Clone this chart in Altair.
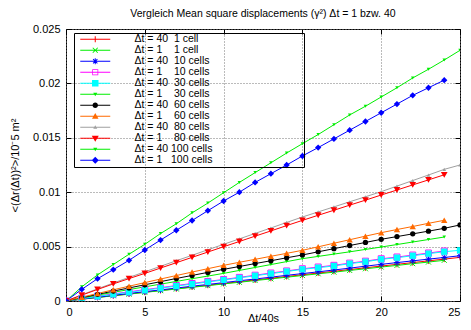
import altair as alt
import pandas as pd

FONT = "Liberation Sans"

# x positions (Δt/40s)
x_dt40 = list(range(26))
x_dt1 = list(range(25))

labels = [
    "Δt = 40  1 cell",
    "Δt = 1    1 cell",
    "Δt = 40  10 cells",
    "Δt = 1    10 cells",
    "Δt = 40  30 cells",
    "Δt = 1    30 cells",
    "Δt = 40  60 cells",
    "Δt = 1    60 cells",
    "Δt = 40  80 cells",
    "Δt = 1    80 cells",
    "Δt = 40 100 cells",
    "Δt = 1   100 cells",
]
names = [s.replace(" ", "\u00a0") for s in labels]

d40_1 = [0, .00017, .00033, .00049, .00065, .00081, .00097, .00113, .00129, .00145, .00161, .00177, .00193,
         .00209, .00225, .00241, .00257, .00273, .00289, .00305, .00321, .00337, .00353, .00369, .00385, .00401]
d1_1 = [0, .00016, .00032, .00048, .00063, .00079, .00095, .00110, .00126, .00141, .00157, .00172, .00188,
        .00203, .00219, .00234, .00250, .00265, .00281, .00296, .00312, .00327, .00343, .00358, .00374]
d40_10 = [0, .00018, .00035, .00052, .00069, .00086, .00102, .00119, .00136, .00152, .00169, .00186, .00202,
          .00219, .00236, .00252, .00268, .00285, .00302, .00320, .00337, .00353, .00369, .00385, .00400, .00416]
d1_10 = [0, .00023, .00045, .00065, .00085, .00104, .00123, .00142, .00161, .00180, .00198, .00217, .00237,
         .00257, .00276, .00296, .00312, .00328, .00348, .00366, .00388, .00404, .00422, .00441, .00459]
d40_30 = [0, .00022, .00042, .00061, .00080, .00099, .00118, .00137, .00156, .00175, .00193, .00212, .00232,
          .00252, .00271, .00291, .00306, .00322, .00343, .00361, .00383, .00398, .00416, .00435, .00453, .00466]
d1_30 = [0, .00028, .00054, .00080, .00105, .00130, .00155, .00180, .00205, .00229, .00254, .00281, .00308,
         .00335, .00362, .00389, .00410, .00431, .00452, .00474, .00496, .00519, .00542, .00565, .00588]
d40_60 = [0, .00031, .00061, .00091, .00120, .00149, .00178, .00207, .00235, .00263, .00291, .00317, .00344,
          .00370, .00397, .00423, .00452, .00481, .00510, .00538, .00567, .00592, .00617, .00642, .00668, .00699]
d1_60 = [0, .00035, .00069, .00103, .00136, .00169, .00202, .00234, .00266, .00297, .00328, .00356, .00383,
         .00411, .00438, .00466, .00498, .00531, .00563, .00596, .00628, .00657, .00685, .00714, .00742]
d40_80 = [0, .00057, .00112, .00165, .00217, .00268, .00319, .00370, .00420, .00471, .00521, .00571, .00621,
          .00671, .00722, .00772, .00819, .00865, .00912, .00958, .01005, .01056, .01107, .01158, .01210, .01250]
d1_80 = [0, .00054, .00106, .00157, .00206, .00254, .00303, .00352, .00401, .00450, .00499, .00547, .00596,
         .00644, .00693, .00741, .00788, .00834, .00881, .00927, .00974, .01020, .01067, .01113, .01160]
d40_100 = [0, .00130, .00240, .00335, .00430, .00521, .00620, .00710, .00810, .00900, .00995, .01090, .01180,
           .01270, .01360, .01446, .01530, .01620, .01710, .01790, .01875, .01960, .02050, .02130, .02215, .02304]
d1_100 = [0, .00107, .00205, .00288, .00374, .00469, .00560, .00650, .00740, .00830, .00919, .01000, .01090,
          .01170, .01250, .01333, .01410, .01490, .01570, .01650, .01730, .01810, .01890, .01960, .02030]

series_y = [d40_1, d1_1, d40_10, d1_10, d40_30, d1_30, d40_60, d1_60, d40_80, d1_80, d40_100, d1_100]
series_x = [x_dt40 if i % 2 == 0 else x_dt1 for i in range(12)]

colors = ["#ff0000", "#00ee00", "#0000ff", "#ff00ff", "#00ffff", "#00ee00",
          "#000000", "#ff6a00", "#a0a0a0", "#ff0000", "#00ee00", "#0000ff"]

# marker styles for data points
PLUS = "M-1,0H1M0,-1V1"
XCROSS = "M-1,-1L1,1M-1,1L1,-1"
STAR = "M-1,0H1M0,-1V1M-0.75,-0.75L0.75,0.75M-0.75,0.75L0.75,-0.75"
pt_shapes = [PLUS, XCROSS, STAR, "square", "square", "triangle-down", "circle",
             "triangle-up", "triangle-up", "triangle-down", "triangle-down", "diamond"]
pt_filled = [False, False, False, False, True, True, True, True, True, True, True, True]
pt_sizes = [36, 25, 36, 36, 40, 12, 28, 40, 14, 45, 12, 40]

# legend symbols: line sample + marker (filled paths, unit = 5px)
LINE = "M-3,-0.1H3V0.1H-3Z"
leg_markers = [
    "M-0.6,-0.1H0.6V0.1H-0.6ZM-0.1,-0.6H0.1V0.6H-0.1Z",
    "M-0.57,-0.43L-0.43,-0.57L0.57,0.43L0.43,0.57ZM-0.57,0.43L0.43,-0.57L0.57,-0.43L-0.43,0.57Z",
    "M-0.6,-0.1H0.6V0.1H-0.6ZM-0.1,-0.6H0.1V0.6H-0.1ZM-0.5,-0.36L-0.36,-0.5L0.5,0.36L0.36,0.5ZM-0.5,0.36L0.36,-0.5L0.5,-0.36L-0.36,0.5Z",
    "M-0.6,-0.6H0.6V0.6H-0.6ZM-0.45,-0.45V0.45H0.45V-0.45Z",
    "M-0.65,-0.65H0.65V0.65H-0.65Z",
    "M-0.4,-0.3L0.4,-0.3L0,0.4Z",
    "M-0.55,0A0.55,0.55 0 1,1 0.55,0A0.55,0.55 0 1,1 -0.55,0Z",
    "M-0.65,0.5L0,-0.65L0.65,0.5Z",
    "M-0.4,0.3L0,-0.4L0.4,0.3Z",
    "M-0.7,-0.5L0.7,-0.5L0,0.7Z",
    "M-0.4,-0.3L0.4,-0.3L0,0.4Z",
    "M0,-0.7L0.7,0L0,0.7L-0.7,0Z",
]
leg_paths = [LINE + m for m in leg_markers]

x_ticks = [0, 5, 10, 15, 20, 25]
y_ticks = [0, 0.005, 0.01, 0.015, 0.02, 0.025]

rows = []
for name, xs, ys in zip(names, series_x, series_y):
    for xv, yv in zip(xs, ys):
        rows.append({"series": name, "x": xv, "y": yv})
df = pd.DataFrame(rows)

xscale = alt.Scale(domain=[0, 25], nice=False, zero=False)
yscale = alt.Scale(domain=[0, 0.025], nice=False, zero=False)
cscale = alt.Scale(domain=names, range=colors)

ax_bottom = alt.Axis(orient="bottom", values=x_ticks, format="d", offset=-5, tickSize=5, domain=False,
                     grid=True, labelPadding=5, title="Δt/40s", titlePadding=-5)
ax_left = alt.Axis(orient="left", values=y_ticks, format="~g", offset=-5, tickSize=5, domain=False,
                   grid=True, labelPadding=6, title="<(Δr(Δt))²>/10⁻5 m²", titlePadding=12)
ax_top = alt.Axis(orient="top", values=x_ticks, offset=-5, tickSize=5, domain=False, grid=False,
                  labels=False, title=None)
ax_right = alt.Axis(orient="right", values=y_ticks, offset=-5, tickSize=5, domain=False, grid=False,
                    labels=False, title=None)

lines = alt.Chart(df).mark_line(strokeWidth=1).encode(
    x=alt.X("x:Q", scale=xscale, axis=ax_bottom),
    y=alt.Y("y:Q", scale=yscale, axis=ax_left),
    color=alt.Color("series:N", scale=cscale, legend=None),
)

point_layers = []
for i, name in enumerate(names):
    sub = df[df["series"] == name]
    point_layers.append(
        alt.Chart(sub).mark_point(shape=pt_shapes[i], filled=pt_filled[i], size=pt_sizes[i],
                                  opacity=1, strokeWidth=1, clip=True).encode(
            x=alt.X("x:Q", scale=xscale, axis=None),
            y=alt.Y("y:Q", scale=yscale, axis=None),
            color=alt.Color("series:N", scale=cscale, legend=None),
        )
    )

# trailing non-breaking spaces widen the key box (zero-width space stops trimming)
pad = "\u00a0" * 31 + "\u200b"
leg = alt.Legend(title=None, symbolOpacity=1, labelLimit=400,
                 labelExpr="datum.label + '" + pad + "'")

# legend carrier: only the origin point of each series (invisible)
legend_df = df[df["x"] == 0]
legend_layer = alt.Chart(legend_df).mark_point(filled=True, size=100).encode(
    x=alt.X("x:Q", scale=xscale, axis=ax_top),
    y=alt.Y("y:Q", scale=yscale, axis=ax_right),
    color=alt.Color("series:N", scale=cscale, legend=leg),
    shape=alt.Shape("series:N", scale=alt.Scale(domain=names, range=leg_paths), legend=leg),
    opacity=alt.value(0),
)

chart = alt.layer(lines, *point_layers, legend_layer).resolve_axis(
    x="independent", y="independent"
).resolve_legend(
    color="independent", shape="independent"
).properties(
    width=394,
    height=272,
    padding={"left": 1, "top": 0, "right": 0, "bottom": 0},
    title=alt.TitleParams(
        text="Vergleich Mean square displacements (γ²) Δt = 1 bzw. 40",
        font=FONT, fontSize=10.5, fontWeight="normal", color="black",
        anchor="middle", frame="group", offset=4,
    ),
).configure_view(
    stroke="black", strokeWidth=1
).configure_axis(
    labelFont=FONT, labelFontSize=11, labelColor="black",
    titleFont=FONT, titleFontSize=11, titleFontWeight="normal", titleColor="black",
    tickColor="black", tickWidth=1,
    gridColor="#777777", gridDash=[1, 2], gridWidth=1, gridOpacity=1,
).configure_legend(
    orient="none", legendX=8, legendY=4, padding=1,
    strokeColor="black", rowPadding=-3.5,
    symbolSize=100, symbolStrokeWidth=0, symbolOffset=15, labelOffset=34,
    labelFont=FONT, labelFontSize=10.5, labelColor="black", symbolOpacity=1,
)

chart.save("out.html", embed_options={"renderer": "svg", "actions": False})
